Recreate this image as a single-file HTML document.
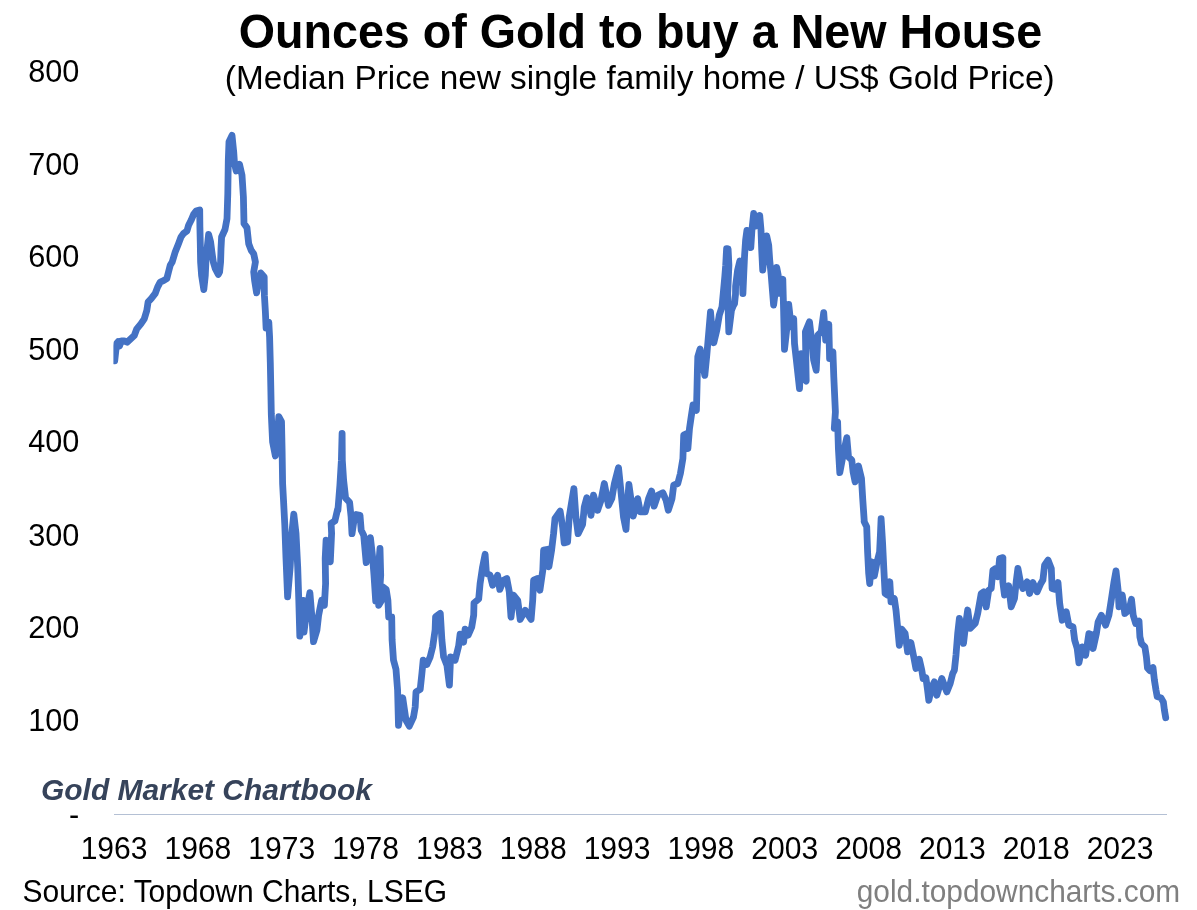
<!DOCTYPE html>
<html lang="en">
<head>
<meta charset="utf-8">
<title>Ounces of Gold to buy a New House</title>
<style>
html,body{margin:0;padding:0;background:#fff;}
body{width:1197px;height:910px;overflow:hidden;position:relative;font-family:"Liberation Sans",sans-serif;}
svg{position:absolute;left:0;top:0;display:block;}
text{font-family:"Liberation Sans",sans-serif;fill:#000;}
.title{font-size:48px;font-weight:bold;}
.sub{font-size:33.33px;}
.yl{font-size:30.67px;}
.xl{font-size:30.67px;}
.brand{font-size:29.95px;font-weight:bold;font-style:italic;fill:#36435a;}
.src{font-size:30.9px;}
.site{font-size:30.75px;fill:#7f7f7f;}
</style>
</head>
<body>
<svg width="1197" height="910" viewBox="0 0 1197 910">
<rect width="1197" height="910" fill="#ffffff"/>
<!-- axis -->
<line x1="114" y1="814.5" x2="1167" y2="814.5" stroke="#b4c0d4" stroke-width="1"/>
<!-- titles -->
<text class="title" x="238.7" y="48.2" textLength="803.4" lengthAdjust="spacingAndGlyphs">Ounces of Gold to buy a New House</text>
<text class="sub" x="639.7" y="89" text-anchor="middle">(Median Price new single family home / US$ Gold Price)</text>
<!-- y labels -->
<g class="yl" text-anchor="end">
<text x="79.4" y="82.0">800</text>
<text x="79.4" y="174.7">700</text>
<text x="79.4" y="267.4">600</text>
<text x="79.4" y="360.1">500</text>
<text x="79.4" y="452.3">400</text>
<text x="79.4" y="545.5">300</text>
<text x="79.4" y="638.3">200</text>
<text x="79.4" y="731.0">100</text>
<text x="79.3" y="825.2">-</text>
</g>
<!-- x labels -->
<g class="xl" text-anchor="end">
<text transform="translate(147.5,859.2) scale(0.98,1)">1963</text>
<text transform="translate(231.3,859.2) scale(0.98,1)">1968</text>
<text transform="translate(315.2,859.2) scale(0.98,1)">1973</text>
<text transform="translate(399.0,859.2) scale(0.98,1)">1978</text>
<text transform="translate(482.8,859.2) scale(0.98,1)">1983</text>
<text transform="translate(566.6,859.2) scale(0.98,1)">1988</text>
<text transform="translate(650.5,859.2) scale(0.98,1)">1993</text>
<text transform="translate(734.3,859.2) scale(0.98,1)">1998</text>
<text transform="translate(818.1,859.2) scale(0.98,1)">2003</text>
<text transform="translate(902.0,859.2) scale(0.98,1)">2008</text>
<text transform="translate(985.8,859.2) scale(0.98,1)">2013</text>
<text transform="translate(1069.6,859.2) scale(0.98,1)">2018</text>
<text transform="translate(1153.5,859.2) scale(0.98,1)">2023</text>
</g>
<text class="brand" x="41" y="800">Gold Market Chartbook</text>
<text class="src" transform="translate(22.5,902) scale(0.971,1)">Source: Topdown Charts, LSEG</text>
<text class="site" transform="translate(1180.2,902) scale(0.9707,1)" text-anchor="end">gold.topdowncharts.com</text>
<!-- series -->
<g id="series">
<clipPath id="plotclip"><rect x="113.4" y="100" width="1070" height="712"/></clipPath>
<polyline clip-path="url(#plotclip)" fill="none" stroke="#4472c4" stroke-width="6.8" stroke-linejoin="round" stroke-linecap="round" points="114.7,360.9 115.7,351.9 116.7,343.4 118.2,341.5 119.5,346 121.4,340.9 124.2,340.9 127.1,342.2 134.3,335.5 136.8,328.8 140.9,323.8 144.3,318.8 146.8,310.5 148.1,302.1 151.8,297.9 155.1,293.7 157.6,287.1 160.2,282.1 163.5,280.7 166.8,278.7 168.5,272 170.2,265.3 172.2,262 175.2,252 178.5,243.7 181,237 183.5,233.6 186.9,231.1 188.6,225.3 191.1,220.3 193.6,214.4 196.1,211.1 199.7,209.9 199.9,227 200.3,243.7 200.6,262 201.6,275.4 203.8,289.6 205.3,275.4 205.9,262 206.9,250.4 208.6,234.5 210.6,242 211.9,252 213.3,262 215.3,268.7 218.3,274.5 219.6,272 220.6,262 221,248.7 221.6,237 225,229.5 227,218.6 227.8,193.5 228.3,160.1 229,141.7 232,135.4 233.7,151.8 234.5,163.5 236.2,171 239.5,164.3 242,175.2 243.4,196.9 244,223.6 247,227.8 248.7,243.7 251.2,250.4 253.7,253.7 255.4,262 253.7,272 254.6,280.4 256.6,292.9 258.7,282.1 260.7,272.9 264.2,277 264.4,295.4 265.4,312.1 266.1,328 268.8,322.2 269.6,337.2 270.3,362.3 270.8,387.3 271.3,414 271.8,425.1 272.6,441.8 275.4,456 277.6,433.4 278.8,416.7 281.5,421.7 282.1,450.1 282.6,483.5 283.5,500 284.8,525.1 286,558.5 287.6,596.9 290.2,566.8 291.8,533.4 293.8,514.2 296,533.4 297.7,566.8 298.8,600.3 299.8,636.2 301.8,613.6 303.2,600.3 304,632 306.9,608.6 309.9,592.7 311.9,617 313.5,641.7 316.9,630.3 318.6,615.3 321.6,600.3 324.4,605.3 325.6,583.5 325.2,558.5 326.1,540.1 330.3,561.8 331.6,533.4 331.1,523.4 334.9,520.9 337.8,508.4 337.9,510.3 339.9,485.2 341.4,460.2 342.1,433.4 342.3,460.2 343.6,480.2 345.6,498.2 349.6,502.3 351.1,517 352,533.7 354.5,517 356.1,514.5 360,515.3 361.2,530.3 363.7,535.3 366.2,562.7 370.4,537.6 372.4,555.1 374,575.2 375.7,601.1 377.9,575.2 380,548.5 380.7,575.2 378.7,605.3 381.7,600.3 382.9,586.9 386.2,589.4 387.9,600.3 388.7,617 391.7,617 392.1,640.1 393.5,660.2 396,669.4 397.6,690.3 398.5,725.3 402.7,697.8 406,720.3 409.3,726.2 413.5,717 415.2,707 416,691.9 420.2,689.4 421.9,673.5 423.2,660.2 426.9,664.4 430.2,656.8 432.7,646.8 435.1,630.1 435.6,616.7 440.3,613.4 441.9,640.1 443.6,656.8 446.9,665.2 449.4,685.2 450.6,656.8 455.1,660.2 458.6,646.1 460.1,634.1 463.6,642.1 465.1,629.1 468.2,635.1 471.7,627.1 473.7,615.1 474,603 478.7,599 480.1,583.5 482.6,566.8 485.1,554.3 486.4,573.5 490.1,575.2 492.6,585.2 497.6,575.2 499.8,589.4 503.5,580.2 506.8,578.5 509.3,591.9 511,617 513.5,595.2 517.7,600.3 520.2,619.5 525.2,610.3 531.1,619.5 532.7,600.3 533.6,580.2 537.7,578.5 539.9,590.2 542.8,570.2 543.6,550.1 547.8,549.3 548.9,566.8 551.6,550.1 553.6,533.4 555,518.4 560.1,511.1 562.6,527 564.2,542.9 567.6,542 569.2,517 571.4,503.6 573.9,488.6 575.9,517 578.1,533.7 582.6,524.5 584.3,506.9 586.8,497.7 589.3,506.9 591,515.3 593.5,495.2 597.6,510.3 601,500.3 604.3,483.5 608.5,505.3 611.8,498.6 614.4,483.5 618.5,467.7 621,491.9 623.5,517 626,529.5 627.7,500.3 628.9,484.4 631.1,500.3 633.2,516.1 637.7,498.6 640.3,511.9 645.3,511.9 648.6,498.6 651.6,491.1 654.1,506.1 657.8,495.2 662.8,492.7 666.1,500.3 668.3,510.3 672,498.6 673.7,485.2 677.8,483.5 680.4,473.5 682.9,458.5 683.7,435.1 687,433.4 687.9,448.5 689.5,428.4 691.2,416.7 693,405 696.4,410.4 696.9,392 697.4,370.3 697.8,356.7 700.1,348.9 702.6,363.6 704.8,375.3 706.8,355.2 708.5,335.2 710.5,311.8 712.6,335.2 713.8,342.7 716.8,330.2 719.3,315.1 722,306.8 724.8,276.7 725.7,265.2 726.6,248.6 728.1,248.9 728.9,265.2 727.7,293.4 728.8,331.8 731.5,310.1 733.2,305.9 734.5,303.8 735.5,294.3 735.6,286.2 737.6,270.2 739.8,261 741.6,261.7 742.2,275.2 742.9,293.7 743.7,275.2 744.6,255.2 745.6,240.1 746.9,230.4 749.3,231.6 750.8,247.6 752,229.1 753.7,213.3 755.7,226.1 757.7,221.1 759.7,215.4 761,230.1 761.7,250.1 762.7,270.2 764.2,255.2 766.7,235.9 768.7,245.1 769.7,260.2 771.2,275.2 773.6,305.1 776.1,285.1 776.7,267.4 778.2,275.2 779.5,293.4 782.8,279.2 783.6,310.1 784.5,349.4 787,326.8 788.7,304.3 791.2,326.8 793.7,318.5 794.5,343.5 796.2,358.6 799.5,388.7 801.2,353.6 803.4,377 806.2,381.1 805.4,331.8 809.5,321.8 812,343.5 813.7,360.3 816.2,370.3 817.9,335.2 821.2,331.8 823.7,312.6 825.7,340.2 828.8,324.3 829.6,358.6 832.9,351.9 833.8,377 835.4,412 834.3,428.4 837.6,421.7 838.4,448.5 839.8,472.7 843.4,453.5 846.8,437.6 848.5,456.8 851.8,460.2 853.1,471.9 855.1,481.9 858.5,466 861.5,478.6 862.7,498.6 864.3,522 864.2,521.7 866.7,526.7 867.6,551.8 868.7,573.5 869.7,583.5 871.7,561.8 874.3,576 877.1,561.8 879.6,551.8 880.4,535.1 881.1,518.7 882.6,543.4 883.8,568.5 885.1,593.5 887.6,595.2 889.8,581.8 891,601.9 894.3,598.6 896,610.3 897.6,627 899.3,645.3 901.7,629.2 905.1,633.4 907.6,651.8 910.9,642.6 913.4,655.1 915.9,668.5 919.3,659.3 921.8,670.2 923.1,678.5 925.9,677.7 927.6,690.2 928.8,700.3 931.8,686.9 934.3,681.9 936.8,695.2 939.3,686.9 941.8,678.5 944.3,685.2 946.8,691.9 950.2,683.5 952.7,673.5 954.4,670.2 956,655.1 957.7,633.4 959.4,618.4 961.9,633.4 963.5,643.4 966,621.7 967.7,610 970.2,628.4 975.2,623.4 977.7,613.4 981.2,593.5 983.7,591.9 986.2,606.9 988.7,590.2 991.2,588.5 992.9,570.2 995.4,568.5 997.9,576.8 999.6,558.5 1002.9,557.6 1002.8,581.8 1004.5,595.1 1008.7,585.9 1011.2,606.8 1014.5,598.5 1016.2,581.8 1017.9,568.4 1020.4,581.8 1022.9,588.5 1027.1,581.8 1029.6,593.5 1032.9,582.6 1037.1,591.8 1040.4,584.3 1042.9,580.1 1044.6,565.1 1048,560.1 1051.3,568.4 1052.1,588.5 1054.6,589.3 1058,582.6 1059.7,603.5 1062.2,620.2 1066.3,611.8 1068.8,625.2 1073,626.9 1074.7,640.3 1077.2,648.6 1078.9,662.8 1082.2,646.9 1085.6,655.3 1088.9,633.6 1093.1,635.2 1093.1,648.6 1096.4,633.6 1098.1,621.9 1101.4,615.2 1105.6,625.2 1108.9,615.2 1111.5,598.5 1114,581.8 1116,570.9 1118.1,590.1 1119,606.8 1122.3,595.1 1124.8,613.5 1129,610.2 1131.5,599.3 1133.2,615.2 1135.7,623.5 1139,621 1139.9,636.9 1141.5,643.6 1144.9,646.9 1146.4,657 1147.5,668.1 1149.7,670.6 1153,667.6 1154.4,680.1 1156,690.1 1157.2,696.6 1161,697.9 1163.4,702.2 1164.4,710.2 1165.7,717.7"/>
</g>
</svg>
</body>
</html>
